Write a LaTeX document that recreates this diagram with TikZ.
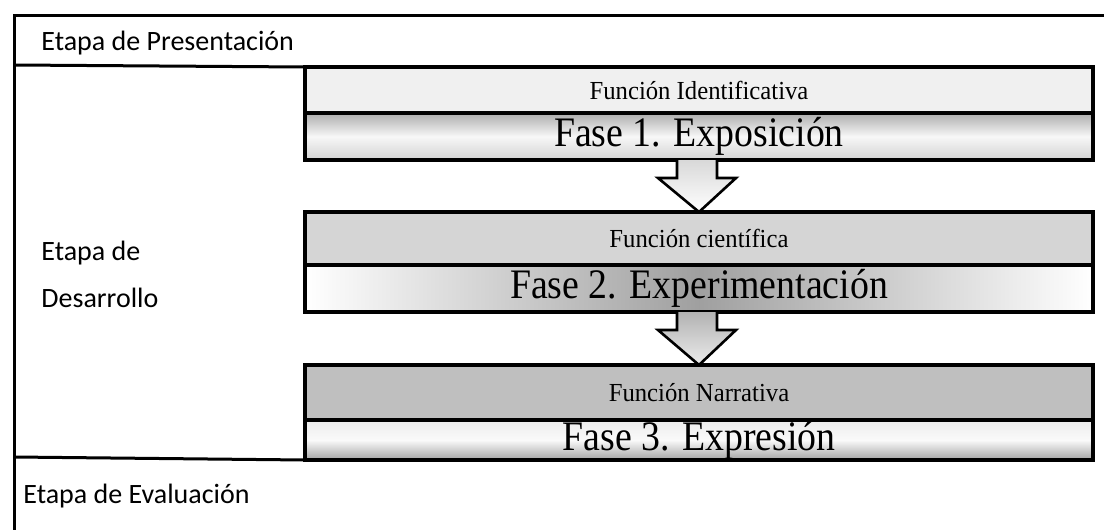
\documentclass[tikz,border=0pt]{standalone}
\usepackage{fontspec}
\setmainfont{Liberation Serif}
\newfontfamily\labelfont{Carlito}
\newfontfamily\phasefont[FakeStretch=0.9]{Liberation Serif}
\newfontfamily\funfont[FakeStretch=0.95]{Liberation Serif}
\usetikzlibrary{positioning,calc}

\begin{document}
\begin{tikzpicture}[x=0.5pt,y=-0.5pt,
  frameline/.style={line width=1.5pt},
  funbox/.style={draw,line width=1.7pt,outer sep=0pt,inner sep=0pt,minimum width=394pt,
    font=\funfont\fontsize{13}{15}\selectfont},
  fasebox/.style={draw,line width=1.7pt,outer sep=0pt,inner sep=0pt,minimum width=394pt,
    minimum height=23.5pt,font=\phasefont\fontsize{21}{24}\selectfont},
  stagelabel/.style={anchor=west,inner sep=0pt,align=left,
    font=\labelfont\fontsize{14}{17}\selectfont},
  blockarr/.style={line width=1.3pt,line join=miter}
]
  \useasboundingbox (0,0) rectangle (1104,530);

  % Stage frame
  \draw[frameline] (1104,15) -- (14,15) -- (14,530);

  % Phases
  \node[funbox,minimum height=23pt,fill=gray!12] (fun1) at (699,90) {Función Identificativa};
  \node[fasebox,below=0pt of fun1,top color=gray!65,bottom color=gray!35,middle color=gray!6] (fase1) {Fase 1. Exposición};
  \node[funbox,minimum height=26.5pt,fill=gray!33,below=26pt of fase1] (fun2) {Función científica};
  \node[fasebox,below=0pt of fun2,left color=white,right color=white,middle color=gray!75] (fase2) {Fase 2. Experimentación};
  \node[funbox,minimum height=27.5pt,fill=gray!50,below=26.5pt of fase2] (fun3) {Función Narrativa};
  \node[fasebox,minimum height=20pt,below=0pt of fun3,top color=gray!15,bottom color=gray!72,middle color=gray!4] (fase3) {Fase 3. Expresión};

  \draw[frameline] (14,65) -- (fun1.north west);
  \draw[frameline] (14,457) -- (fase3.south west);

  % Stage labels
  \node[stagelabel] (pres) at (41,43) {Etapa de Presentación};
  \node[stagelabel] (desa) at (41,274) {Etapa de\\[6.5pt]Desarrollo};
  \node[stagelabel] (eval) at (23,496) {Etapa de Evaluación};

  % Block arrows
  \draw[blockarr,top color=gray!30,bottom color=white]
    ($(fase1.south)+(-22,0)$) -- ($(fase1.south)+(-22,18)$) -- ($(fase1.south)+(-41,18)$)
    -- (fun2.north) -- ($(fase1.south)+(37,18)$) -- ($(fase1.south)+(18,18)$) -- ($(fase1.south)+(18,0)$);
  \draw[blockarr,top color=gray!60,bottom color=gray!15]
    ($(fase2.south)+(-22,0)$) -- ($(fase2.south)+(-22,18)$) -- ($(fase2.south)+(-41,18)$)
    -- (fun3.north) -- ($(fase2.south)+(37,18)$) -- ($(fase2.south)+(18,18)$) -- ($(fase2.south)+(18,0)$);
\end{tikzpicture}
\end{document}
